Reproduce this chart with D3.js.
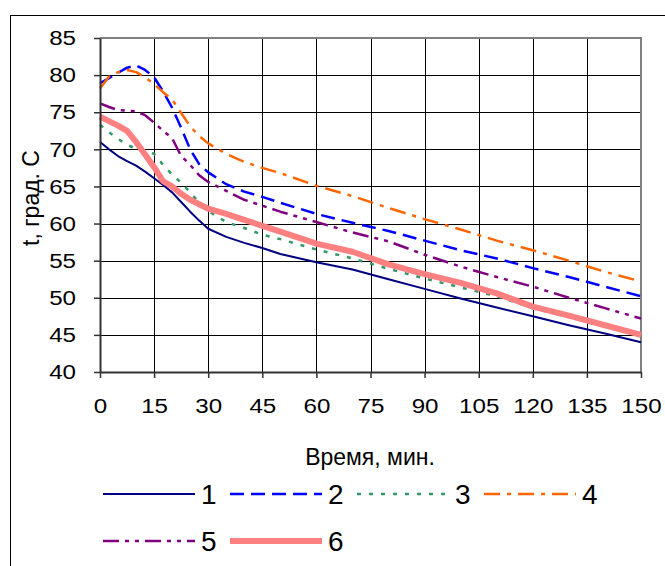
<!DOCTYPE html>
<html>
<head>
<meta charset="utf-8">
<script src="https://cdn.jsdelivr.net/npm/d3@7"></script>
<style>
  html, body { margin: 0; padding: 0; background: #fff; }
  svg { display: block; }
</style>
</head>
<body>
<svg id="chart" width="665" height="566"></svg>
<script>
// Time axis, minutes
const minutes = [0, 2.5, 5, 7.5, 10, 12.5, 15, 17.5, 20, 22.5, 25, 27.5, 30,
                 35, 40, 45, 50, 60, 70, 80, 90, 100, 110, 120, 130, 140, 150];

// Temperature, deg C, one array per run
const run1 = [71.0, 70.0, 69.1, 68.4, 67.8, 67.0, 66.1, 65.2, 64.2, 62.9, 61.6, 60.4, 59.3,
              58.2, 57.4, 56.7, 55.9, 54.8, 53.8, 52.5, 51.2, 49.9, 48.7, 47.5, 46.3, 45.2, 44.0];
const run2 = [78.9, 79.6, 80.3, 81.0, 81.3, 80.7, 79.7, 77.8, 75.6, 72.9, 70.0, 68.0, 66.9,
              65.3, 64.3, 63.6, 62.8, 61.3, 60.1, 59.0, 57.7, 56.4, 55.3, 54.0, 52.8, 51.5, 50.2];
const run3 = [73.3, 72.3, 71.4, 70.6, 70.1, 69.8, 69.4, 67.9, 66.6, 65.5, 64.2, 62.8, 61.7,
              60.2, 59.4, 58.5, 57.9, 56.5, 55.3, 53.9, 52.6, 51.4, 50.2, 48.6, 47.4, 46.1, 44.9];
const run4 = [78.2, 79.8, 80.4, 80.7, 80.4, 79.7, 78.8, 77.7, 76.7, 74.9, 73.1, 71.8, 70.8,
              69.4, 68.3, 67.5, 66.8, 65.1, 63.7, 62.1, 60.6, 59.2, 57.7, 56.4, 55.0, 53.5, 52.2];
const run5 = [76.2, 75.7, 75.3, 75.2, 75.1, 74.6, 73.6, 72.5, 71.5, 69.1, 67.9, 66.5, 65.6,
              64.4, 63.2, 62.4, 61.6, 60.2, 58.8, 57.6, 55.8, 54.2, 52.8, 51.5, 50.0, 48.6, 47.2];
const run6 = [74.4, 73.8, 73.2, 72.5, 71.0, 69.3, 67.6, 65.7, 65.0, 64.0, 63.2, 62.6, 62.0,
              61.3, 60.5, 59.7, 58.9, 57.3, 56.2, 54.5, 53.2, 52.0, 50.6, 48.8, 47.6, 46.3, 45.0];

const runNames = ["1", "2", "3", "4", "5", "6"];
const xTickValues = [0, 15, 30, 45, 60, 75, 90, 105, 120, 135, 150];
const yTickValues = [40, 45, 50, 55, 60, 65, 70, 75, 80, 85];
const xTitle = "Время, мин.";
const yTitle = "t, град. C";

// Line styles per run
const styles = [
  { color: "#000080", width: 2,   dash: null },
  { color: "#0000FF", width: 2.5, dash: "14,7" },
  { color: "#339966", width: 2.5, dash: "4,8" },
  { color: "#FF6600", width: 2.5, dash: "16,7,4,7" },
  { color: "#800080", width: 2.5, dash: "16,6,4,6,4,6" },
  { color: "#FF8080", width: 6,   dash: null }
];

const runs = [run1, run2, run3, run4, run5, run6].map((vals, i) => ({
  name: runNames[i],
  style: styles[i],
  points: vals.map((v, j) => ({ t: minutes[j], v }))
}));

const FONT = "'Liberation Sans', Arial, sans-serif";
const svg = d3.select("#chart");

svg.append("rect").attr("width", 665).attr("height", 566).attr("fill", "#fff");
// chart frame
svg.append("rect")
  .attr("x", 10.5).attr("y", 15.5).attr("width", 700).attr("height", 600)
  .attr("fill", "none").attr("stroke", "#000").attr("stroke-width", 1);

const plot = { left: 100, right: 641, top: 38, bottom: 372 };
const x = d3.scaleLinear().domain([0, 150]).range([plot.left, plot.right]);
const y = d3.scaleLinear().domain([40, 85]).range([plot.bottom, plot.top]);

// gridlines
const grid = svg.append("g").attr("shape-rendering", "crispEdges");
grid.append("g")
  .attr("transform", `translate(${plot.left},0)`)
  .call(d3.axisLeft(y).tickValues(yTickValues.slice(1, -1))
        .tickSize(-(plot.right - plot.left)).tickFormat(""))
  .call(g => g.select(".domain").remove())
  .selectAll("line").attr("stroke", "#000").attr("stroke-width", 1);
grid.append("g")
  .attr("transform", `translate(0,${plot.bottom})`)
  .call(d3.axisBottom(x).tickValues(xTickValues.slice(1, -1))
        .tickSize(-(plot.bottom - plot.top)).tickFormat(""))
  .call(g => g.select(".domain").remove())
  .selectAll("line").attr("stroke", "#000").attr("stroke-width", 1);
// plot area border (top and right)
grid.append("path")
  .attr("d", `M${plot.left},${plot.top}H${plot.right}V${plot.bottom}`)
  .attr("fill", "none").attr("stroke", "#808080").attr("stroke-width", 2);

// series
const line = d3.line().x(d => x(d.t)).y(d => y(d.v));
svg.append("g").selectAll("path").data(runs).join("path")
  .attr("d", d => line(d.points))
  .attr("fill", "none")
  .attr("stroke", d => d.style.color)
  .attr("stroke-width", d => d.style.width)
  .attr("stroke-dasharray", d => d.style.dash)
  .attr("stroke-linejoin", "round");

// axes
const axisColor = "#333";
const yAxis = svg.append("g")
  .attr("transform", `translate(${plot.left},0)`)
  .call(d3.axisLeft(y).tickValues(yTickValues).tickSize(6).tickSizeOuter(0).tickPadding(18));
const xAxis = svg.append("g")
  .attr("transform", `translate(0,${plot.bottom})`)
  .call(d3.axisBottom(x).tickValues(xTickValues).tickSize(6).tickSizeOuter(0).tickPadding(8));
[yAxis, xAxis].forEach(a => {
  a.select(".domain").attr("stroke", axisColor).attr("stroke-width", 2);
  a.selectAll(".tick line").attr("stroke", axisColor).attr("stroke-width", 1.5);
  a.selectAll("text").attr("fill", "#000").attr("font-family", FONT).attr("font-size", 21);
});
// widen tick labels horizontally around their anchor
yAxis.selectAll(".tick text").each(function () {
  const t = d3.select(this);
  const tx = +t.attr("x");
  t.attr("x", 0).attr("transform", `translate(${tx},0) scale(1.15,1)`);
});
xAxis.selectAll(".tick text").attr("dy", "1.28em").attr("transform", "scale(1.15,1)");

// axis titles
svg.append("text")
  .attr("transform", "translate(39,198) rotate(-90)")
  .attr("text-anchor", "middle")
  .attr("font-family", FONT).attr("font-size", 23)
  .text(yTitle);
svg.append("text")
  .attr("x", 370).attr("y", 465)
  .attr("text-anchor", "middle")
  .attr("font-family", FONT).attr("font-size", 23)
  .text(xTitle);

// legend
const legendPos = [
  { x: 103, y: 494 }, { x: 230, y: 494 }, { x: 357, y: 494 }, { x: 484, y: 494 },
  { x: 103, y: 541 }, { x: 230, y: 541 }
];
const legendLen = 92;
const leg = svg.append("g").selectAll("g").data(runs).join("g")
  .attr("transform", (d, i) => `translate(${legendPos[i].x},${legendPos[i].y})`);
leg.append("line")
  .attr("x1", 0).attr("x2", legendLen).attr("y1", 0).attr("y2", 0)
  .attr("stroke", d => d.style.color)
  .attr("stroke-width", d => d.style.width)
  .attr("stroke-dasharray", d => d.style.dash);
leg.append("text")
  .attr("x", legendLen + 6).attr("y", 0).attr("dy", "0.36em")
  .attr("font-family", FONT).attr("font-size", 28)
  .text(d => d.name);
</script>
</body>
</html>
